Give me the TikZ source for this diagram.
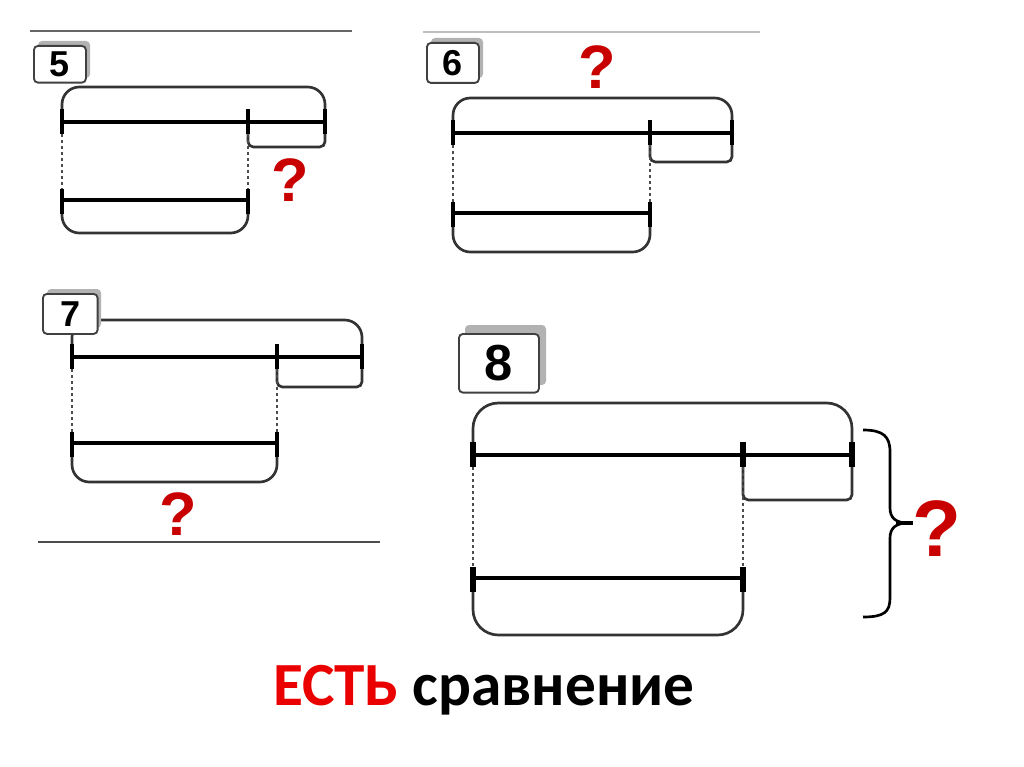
\documentclass[tikz,border=0pt]{standalone}
\usepackage{fontspec}
\setmainfont{Liberation Sans}
\newfontfamily\titlefont{Carlito}
\definecolor{qred}{RGB}{200,0,0}
\definecolor{tred}{RGB}{235,0,0}
\newcommand{\mypanel}[8]{%
  \draw[arcline] (#1,#5) -- (#1,#4) -- (#3,#4) -- (#3,#5);
  \draw[smallarc] (#2,#5) -- (#2,#6) -- (#3,#6) -- (#3,#5);
  \draw[arcline] (#1,#7) -- (#1,#8) -- (#2,#8) -- (#2,#7);
  \draw[dots] (#1,#5+12) -- (#1,#7-10);
  \draw[dots] (#2,#5+12) -- (#2,#7-10);
  \draw[hline] (#1,#5) -- (#3,#5);
  \draw[hline] (#1,#7) -- (#2,#7);
  \draw[tickmark] (#1,#5-13) -- (#1,#5+12);
  \draw[tickmark] (#2,#5-13) -- (#2,#5+12);
  \draw[tickmark] (#3,#5-13) -- (#3,#5+12);
  \draw[tickmark] (#1,#7-11) -- (#1,#7+14);
  \draw[tickmark] (#2,#7-11) -- (#2,#7+14);
}
\begin{document}
\begin{tikzpicture}[x=0.75pt,y=-0.75pt,
  hline/.style={line width=2.8pt, black},
  tickmark/.style={line width=3.2pt, black},
  arcline/.style={line width=2pt, black!80, rounded corners=13pt},
  smallarc/.style={line width=2pt, black!80, rounded corners=4pt},
  dots/.style={line width=2.2pt, black!70, dash pattern=on 2.5pt off 2pt},
  rulel/.style={line width=1.6pt, black!60},
  numbox/.style={draw=black!75, line width=1.4pt, fill=white, rounded corners=3pt, inner sep=0pt},
  shadowbox/.style={fill=black!30, rounded corners=3pt},
  qmark/.style={text=qred, font=\bfseries\fontsize{46}{46}\selectfont, inner sep=0pt},
  digit/.style={font=\bfseries\fontsize{27}{27}\selectfont, inner sep=0pt}]
\useasboundingbox (0,0) rectangle (1024,767);

% rules
\draw[rulel] (30,31) -- (352,31);
\draw[rulel, black!25] (423,32) -- (760,32);
\draw[rulel, black!70] (38,542) -- (380,542);

% panels
\mypanel{62}{248}{325}{87}{122}{147}{200}{233}
\mypanel{453}{650}{732}{98}{133}{162}{213}{252}
\mypanel{72}{277}{362}{320}{357}{387}{443}{482}
\begin{scope}[arcline/.append style={rounded corners=19pt}, tickmark/.append style={line width=4.2pt}]
\mypanel{473}{743}{852}{403}{455}{500}{578}{635}
\end{scope}

% number boxes
\fill[shadowbox] (38,41) rectangle (90,78);
\node[numbox, anchor=north west, minimum width=39pt, minimum height=27.5pt] (b5) at (33,45) {};
\node[digit] (n5) at (b5.center) {5};

\fill[shadowbox] (431,38) rectangle (483,78);
\node[numbox, anchor=north west, minimum width=39pt, minimum height=30pt] (b6) at (426,42) {};
\node[digit] (n6) at (b6.center) {6};

\fill[shadowbox] (47,289) rectangle (101,328);
\node[numbox, anchor=north west, minimum width=41pt, minimum height=30pt] (b7) at (42,293) {};
\node[digit] (n7) at (b7.center) {7};

\fill[shadowbox] (465,325) rectangle (546,385);
\node[numbox, anchor=north west, minimum width=60pt, minimum height=44pt] (b8) at (458,333) {};
\node[digit, font=\bfseries\fontsize{38}{38}\selectfont] (n8) at (b8.center) {8};

% curly brace for 8
\draw[line width=2pt, black] (863,430) .. controls (884,430) and (890,437) .. (890,452) -- (890,508)
  .. controls (890,518) and (896,523) .. (908,523);
\draw[line width=2pt, black] (908,523) .. controls (896,523) and (890,528) .. (890,538) -- (890,598)
  .. controls (890,612) and (884,617) .. (863,617);
\draw[line width=3.5pt, black] (896,523) -- (913,523);

% question marks
\node[qmark] (q5) at (290,180) {?};
\node[qmark] (q6) at (597,67) {?};
\node[qmark] (q7) at (178,514) {?};
\node[qmark, font=\bfseries\fontsize{60}{60}\selectfont] (q8) at (937,529) {?};

% title
\node[anchor=base, font=\titlefont\bfseries\fontsize{46}{46}\selectfont, inner sep=0pt] (title) at (484,705)
  {\textcolor{tred}{ЕСТЬ} сравнение};
\end{tikzpicture}
\end{document}
